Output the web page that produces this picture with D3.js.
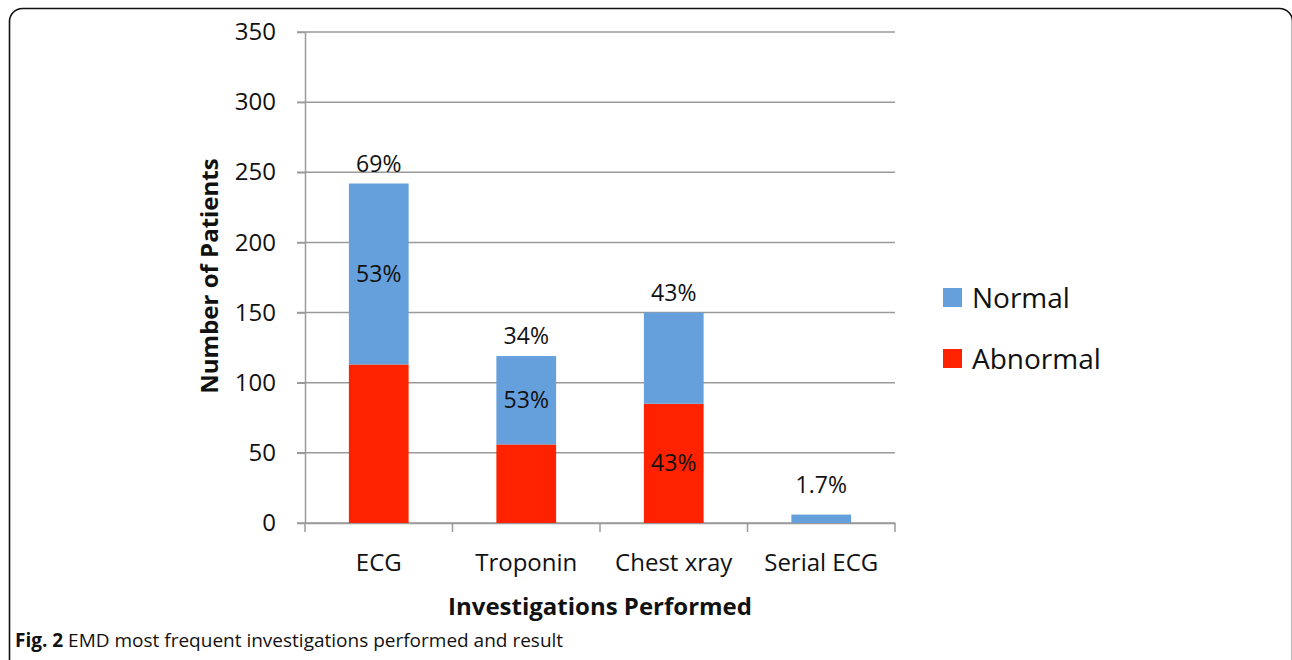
<!DOCTYPE html>
<html>
<head>
<meta charset="utf-8">
<script src="https://cdn.jsdelivr.net/npm/d3@7"></script>
<style>
    body { margin: 0; background: #ffffff; }
    svg { display: block; font-family: "Open Sans", sans-serif; }
</style>
</head>
<body>
<svg id="chart"></svg>
<script>
// Values
let categories = ["ECG", "Troponin", "Chest xray", "Serial ECG"];
let abnormal = [113, 56, 85, 0];
let normal = [129, 63, 65, 6];
let totalLabels = ["69%", "34%", "43%", "1.7%"];
let innerLabels = ["53%", "53%", "43%", ""];
let innerLabelSeries = ["normal", "normal", "abnormal", ""];
let yTicks = [0, 50, 100, 150, 200, 250, 300, 350];
let seriesNames = ["Normal", "Abnormal"];
let seriesColors = ["#659fdc", "#ff2200"];

// Basic values for the SVG
let width = 1292;
let height = 660;
let plotLeft = 305, plotRight = 895, plotTop = 32, plotBottom = 523;
let axisColor = "#9a9a9a";

let svg = d3.select("#chart").attr("width", width).attr("height", height);

// frame round the figure
svg.append("rect")
    .attr("x", 9.5).attr("y", 8.5)
    .attr("width", 1283).attr("height", 700)
    .attr("rx", 13)
    .attr("fill", "none")
    .attr("stroke", "#111")
    .attr("stroke-width", 1.6);

let x = d3.scaleBand().domain(categories).range([plotLeft, plotRight]).paddingInner(0.595).paddingOuter(0.2975);
let y = d3.scaleLinear().domain([0, 350]).range([plotBottom, plotTop]);

// gridlines
svg.selectAll(".grid")
    .data(yTicks)
    .enter()
    .append("line")
    .attr("class", "grid")
    .attr("x1", plotLeft - 8).attr("x2", plotRight)
    .attr("y1", d => y(d)).attr("y2", d => y(d))
    .attr("stroke", axisColor)
    .attr("stroke-width", 1.5);

// y axis
let yAxis = svg.append("g")
    .attr("transform", "translate(" + plotLeft + ",0)")
    .call(d3.axisLeft(y).tickValues(yTicks).tickSize(8).tickPadding(21).tickSizeOuter(0));
yAxis.select(".domain").attr("stroke", axisColor).attr("stroke-width", 1.5);
yAxis.selectAll(".tick line").attr("stroke", axisColor).attr("stroke-width", 1.5);
yAxis.selectAll("text").attr("font-size", 24).attr("fill", "#111").attr("font-family", "Open Sans");

// x axis with ticks between the categories
let xAxis = svg.append("g")
    .attr("transform", "translate(0," + plotBottom + ")")
    .call(d3.axisBottom(x).tickSize(0).tickPadding(31).tickSizeOuter(0));
xAxis.select(".domain").attr("stroke", axisColor).attr("stroke-width", 1.5);
xAxis.selectAll("text").attr("font-size", 24).attr("fill", "#111").attr("font-family", "Open Sans");

let step = x.step();
let bounds = d3.range(categories.length + 1).map(i => plotLeft + i * step);
svg.selectAll(".xtick")
    .data(bounds)
    .enter()
    .append("line")
    .attr("class", "xtick")
    .attr("x1", d => d).attr("x2", d => d)
    .attr("y1", plotBottom).attr("y2", plotBottom + 9)
    .attr("stroke", axisColor)
    .attr("stroke-width", 1.5);

// stacked bars
let rows = categories.map((c, i) => ({cat: c, abnormal: abnormal[i], normal: normal[i]}));
let stack = d3.stack().keys(["abnormal", "normal"])(rows);
let colorOf = {normal: seriesColors[0], abnormal: seriesColors[1]};

svg.selectAll(".layer")
    .data(stack)
    .enter()
    .append("g")
    .attr("class", "layer")
    .attr("fill", d => colorOf[d.key])
    .selectAll("rect")
    .data(d => d)
    .enter()
    .append("rect")
    .attr("x", d => x(d.data.cat))
    .attr("width", x.bandwidth())
    .attr("y", d => y(d[1]))
    .attr("height", d => y(d[0]) - y(d[1]));

// labels above the bars
svg.selectAll(".totalLabel")
    .data(rows)
    .enter()
    .append("text")
    .attr("class", "totalLabel")
    .attr("x", d => x(d.cat) + x.bandwidth() / 2)
    .attr("y", d => Math.min(y(d.abnormal + d.normal), y(13)) - 12)
    .attr("text-anchor", "middle")
    .attr("font-size", 23)
    .attr("fill", "#111")
    .text((d, i) => totalLabels[i]);

// labels inside one segment
svg.selectAll(".innerLabel")
    .data(rows)
    .enter()
    .append("text")
    .attr("class", "innerLabel")
    .attr("x", d => x(d.cat) + x.bandwidth() / 2)
    .attr("y", (d, i) => {
        let lo = innerLabelSeries[i] === "normal" ? d.abnormal : 0;
        let hi = innerLabelSeries[i] === "normal" ? d.abnormal + d.normal : d.abnormal;
        return y((lo + hi) / 2);
    })
    .attr("dy", "0.35em")
    .attr("text-anchor", "middle")
    .attr("font-size", 23)
    .attr("fill", "#111")
    .text((d, i) => innerLabels[i]);

// axis titles
svg.append("text")
    .attr("transform", "translate(218,276) rotate(-90)")
    .attr("text-anchor", "middle")
    .attr("font-size", 24)
    .attr("font-weight", "bold")
    .attr("fill", "#111")
    .text("Number of Patients");

svg.append("text")
    .attr("x", 600).attr("y", 615)
    .attr("text-anchor", "middle")
    .attr("font-size", 24)
    .attr("font-weight", "bold")
    .attr("fill", "#111")
    .text("Investigations Performed");

// legend
let legend = svg.selectAll(".legend")
    .data(seriesNames)
    .enter()
    .append("g")
    .attr("class", "legend")
    .attr("transform", (d, i) => "translate(943," + (288 + i * 61) + ")");
legend.append("rect")
    .attr("width", 19).attr("height", 19)
    .attr("fill", (d, i) => seriesColors[i]);
legend.append("text")
    .attr("x", 29).attr("y", 20)
    .attr("font-size", 28)
    .attr("fill", "#111")
    .text(d => d);

// caption
let caption = svg.append("text")
    .attr("x", 15).attr("y", 647)
    .attr("font-size", 19)
    .attr("fill", "#111");
caption.append("tspan").attr("font-weight", "bold").text("Fig. 2");
caption.append("tspan").text(" EMD most frequent investigations performed and result");
</script>
</body>
</html>
